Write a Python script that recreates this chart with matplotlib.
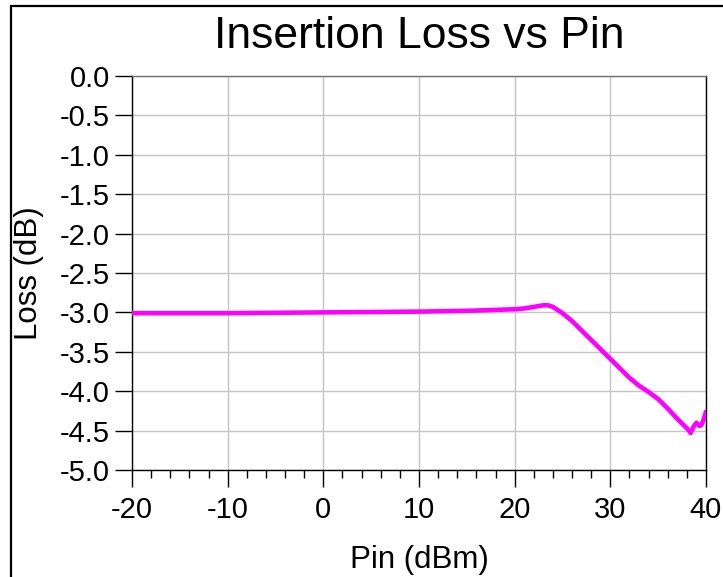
import matplotlib
matplotlib.use('Agg')
import matplotlib.pyplot as plt
from matplotlib.patches import Rectangle
from matplotlib.ticker import MultipleLocator

plt.rcParams['font.family'] = ['Liberation Sans', 'DejaVu Sans']
plt.rcParams['axes.unicode_minus'] = False

TITLE = 'Insertion Loss vs Pin'
X_LABEL = 'Pin (dBm)'
Y_LABEL = 'Loss (dB)'

# values
pin = [-20, -10, 0, 10, 15, 20, 21, 22, 23, 23.5, 24, 25, 26, 27, 28, 29, 30,
       31, 32, 33, 34, 35, 36, 37, 38, 38.4, 38.7, 39.0, 39.3, 39.5, 39.7, 40]
loss = [-3.01, -3.01, -3.00, -2.99, -2.98, -2.96, -2.95, -2.93, -2.91, -2.91,
        -2.93, -3.01, -3.11, -3.23, -3.35, -3.47, -3.59, -3.71, -3.83, -3.93,
        -4.01, -4.10, -4.22, -4.35, -4.47, -4.53, -4.45, -4.40, -4.44, -4.43,
        -4.38, -4.26]

x_ticks = [-20, -10, 0, 10, 20, 30, 40]
y_ticks = [0.0, -0.5, -1.0, -1.5, -2.0, -2.5, -3.0, -3.5, -4.0, -4.5, -5.0]


def main():
    W, H = 723, 577
    fig = plt.figure(figsize=(W / 100, H / 100), dpi=100)
    ax = fig.add_axes([132 / W, 1 - 470 / H, (706 - 132) / W, (470 - 76) / H])

    # outer frame
    fig.patches.append(Rectangle((11 / W, -0.05), 1.1, 1.05 - 6 / H,
                                 transform=fig.transFigure, fill=False,
                                 edgecolor='black', linewidth=1.6))

    ax.plot(pin, loss, color='#ff00ff', linewidth=3.3, solid_capstyle='round', zorder=3)

    ax.set_xlim(-20, 40)
    ax.set_ylim(-5.0, 0.0)
    ax.set_xticks(x_ticks)
    ax.set_yticks(y_ticks)
    ax.set_yticklabels(['%.1f' % v for v in y_ticks])
    ax.xaxis.set_minor_locator(MultipleLocator(2))
    ax.grid(True, which='major', color='#c4c4c4', linewidth=1.0)

    ax.tick_params(axis='both', which='major', direction='out', length=12,
                   width=1.0, labelsize=21, color='black')
    ax.tick_params(axis='x', which='major', pad=7)
    ax.tick_params(axis='y', which='major', pad=4)
    ax.tick_params(axis='x', which='minor', direction='out', length=6, width=1.0)

    for side in ['left', 'bottom', 'right']:
        ax.spines[side].set_color('black')
        ax.spines[side].set_linewidth(1.0)
    ax.spines['top'].set_color('#707070')
    ax.spines['top'].set_linewidth(1.0)

    ax.set_title(TITLE, fontsize=32, pad=20)
    ax.set_xlabel(X_LABEL, fontsize=22.5, labelpad=15)
    ax.set_ylabel(Y_LABEL, fontsize=22.5, labelpad=11)

    fig.savefig('out.png', dpi=100)


if __name__ == '__main__':
    main()
